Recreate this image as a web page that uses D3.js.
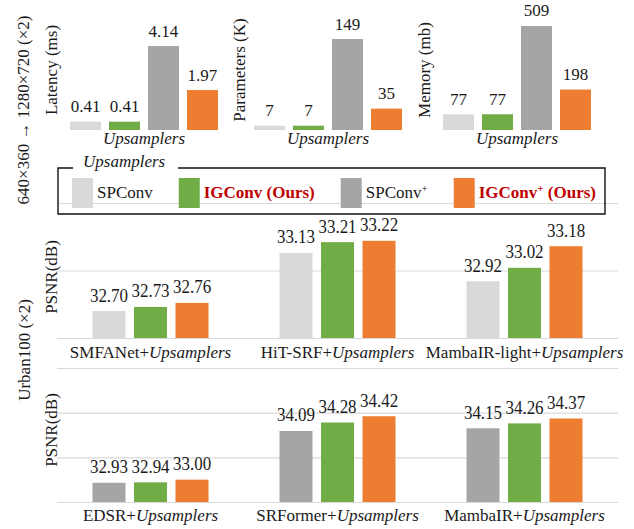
<!DOCTYPE html>
<html>
<head>
<meta charset="utf-8">
<script src="https://cdn.jsdelivr.net/npm/d3@7"></script>
<style>
  html, body { margin: 0; padding: 0; background: #fff; }
  svg { display: block; font-family: "Liberation Serif", "Times New Roman", serif; }
</style>
</head>
<body>
<svg id="chart" width="634" height="529"></svg>
<script>
// ---- data ----
const upsamplers = ["SPConv", "IGConv (Ours)", "SPConv+", "IGConv+ (Ours)"];
const latency = [0.41, 0.41, 4.14, 1.97];
const parameters = [7, 7, 149, 35];
const memory = [77, 77, 509, 198];

const lightModels = ["SMFANet", "HiT-SRF", "MambaIR-light"];
const lightSPConv = [32.70, 33.13, 32.92];
const lightIGConv = [32.73, 33.21, 33.02];
const lightIGConvPlus = [32.76, 33.22, 33.18];
const lightTicks = [32.5, 33.0, 33.5];

const heavyModels = ["EDSR", "SRFormer", "MambaIR"];
const heavySPConvPlus = [32.93, 34.09, 34.15];
const heavyIGConv = [32.94, 34.28, 34.26];
const heavyIGConvPlus = [33.00, 34.42, 34.37];
const heavyTicks = [32.5, 33.5, 34.5, 35.5];

// ---- styling ----
const colors = {
  "SPConv": "#d9d9d9",
  "IGConv (Ours)": "#70ad47",
  "SPConv+": "#a5a5a5",
  "IGConv+ (Ours)": "#ed7d31"
};
const gridColor = "#d9d9d9";
const oursColor = "#c00000";

const svg = d3.select("#chart");

// ---- top row: cost of each upsampler ----
const costPanels = [
  { label: "Latency (ms)", values: latency, fmt: d3.format(".2f"), x0: 70, max: 5, top: 28.6, labelX: 57 },
  { label: "Parameters (K)", values: parameters, fmt: d3.format("d"), x0: 254, max: 160, top: 32.3, labelX: 245 },
  { label: "Memory (mb)", values: memory, fmt: d3.format("d"), x0: 443, max: 600, top: 7.4, labelX: 430 }
];
const costBase = 130;

costPanels.forEach(p => {
  const x = d3.scaleBand().domain(upsamplers).range([p.x0, p.x0 + 148])
    .paddingInner(0.205).paddingOuter(0);
  const y = d3.scaleLinear().domain([0, p.max]).range([costBase, p.top]);
  const g = svg.append("g");
  const rows = upsamplers.map((k, i) => ({ k, v: p.values[i] }));

  g.selectAll("rect").data(rows).join("rect")
    .attr("x", d => x(d.k)).attr("width", x.bandwidth())
    .attr("y", d => y(d.v)).attr("height", d => y(0) - y(d.v))
    .attr("fill", d => colors[d.k]);

  g.selectAll("text.val").data(rows).join("text")
    .attr("class", "val")
    .attr("x", d => x(d.k) + x.bandwidth() / 2)
    .attr("y", d => y(d.v) - 9.5)
    .attr("text-anchor", "middle").attr("font-size", 17).attr("fill", "#1a1a1a")
    .text(d => p.fmt(d.v));

  g.append("text")
    .attr("x", p.x0 + 74).attr("y", 144)
    .attr("text-anchor", "middle").attr("font-size", 17).attr("font-style", "italic")
    .attr("fill", "#1a1a1a").text("Upsamplers");

  g.append("text")
    .attr("transform", `translate(${p.labelX},70) rotate(-90)`)
    .attr("text-anchor", "middle").attr("font-size", 17).attr("fill", "#1a1a1a")
    .text(p.label);
});

// ---- grouped PSNR charts ----
const plotX0 = 57, plotX1 = 618;

function psnrChart(models, seriesKeys, seriesValues, ticks, yRange, labelBaseline, labelY) {
  const x = d3.scaleBand().domain(models).range([plotX0, plotX1]).padding(0);
  const inner = d3.scaleBand().domain(seriesKeys).range([0, x.bandwidth()])
    .paddingInner(0.205).paddingOuter(0.855);
  const y = d3.scaleLinear().domain([ticks[0], ticks[ticks.length - 1]]).range(yRange);

  const grid = svg.append("g").attr("transform", `translate(${plotX0},0)`)
    .call(d3.axisLeft(y).tickValues(ticks).tickSize(-(plotX1 - plotX0)).tickFormat(""));
  grid.select(".domain").remove();
  grid.selectAll(".tick line").attr("stroke", gridColor).attr("stroke-width", 1.2);

  const rows = [];
  models.forEach((m, i) => seriesKeys.forEach((k, j) => rows.push({ m, k, v: seriesValues[j][i] })));

  const g = svg.append("g");
  g.selectAll("rect").data(rows).join("rect")
    .attr("x", d => x(d.m) + inner(d.k)).attr("width", inner.bandwidth())
    .attr("y", d => y(d.v)).attr("height", d => y(ticks[0]) - y(d.v))
    .attr("fill", d => colors[d.k]);

  g.selectAll("text.val").data(rows).join("text")
    .attr("class", "val")
    .attr("transform", d => `translate(${x(d.m) + inner(d.k) + inner.bandwidth() / 2},${y(d.v) - 9.5}) scale(1,1.15)`)
    .attr("text-anchor", "middle").attr("font-size", 17).attr("fill", "#1a1a1a")
    .text(d => d3.format(".2f")(d.v));

  const cat = g.selectAll("text.cat").data(models).join("text")
    .attr("class", "cat")
    .attr("x", d => x(d) + x.bandwidth() / 2).attr("y", labelBaseline)
    .attr("text-anchor", "middle").attr("font-size", 17).attr("fill", "#1a1a1a");
  cat.append("tspan").text(d => d + "+");
  cat.append("tspan").attr("font-style", "italic").text("Upsamplers");

  svg.append("text")
    .attr("transform", `translate(57,${labelY}) rotate(-90)`)
    .attr("text-anchor", "middle").attr("font-size", 17).attr("fill", "#1a1a1a")
    .text("PSNR(dB)");
}

psnrChart(lightModels, ["SPConv", "IGConv (Ours)", "IGConv+ (Ours)"],
  [lightSPConv, lightIGConv, lightIGConvPlus], lightTicks, [338, 203], 358, 277);
psnrChart(heavyModels, ["SPConv+", "IGConv (Ours)", "IGConv+ (Ours)"],
  [heavySPConvPlus, heavyIGConv, heavyIGConvPlus], heavyTicks, [502, 368], 521, 430);

// ---- side titles ----
svg.append("text")
  .attr("transform", "translate(29,110) rotate(-90)")
  .attr("text-anchor", "middle").attr("font-size", 17).attr("fill", "#1a1a1a")
  .text("640×360 → 1280×720 (×2)");
svg.append("text")
  .attr("transform", "translate(30,350) rotate(-90)")
  .attr("text-anchor", "middle").attr("font-size", 17).attr("fill", "#1a1a1a")
  .text("Urban100 (×2)");

// ---- legend ----
const legend = svg.append("g");
legend.append("path")
  .attr("d", "M73,168 H58 V214 H605 V168 H178")
  .attr("fill", "none").attr("stroke", "#111").attr("stroke-width", 1.4);
legend.append("text")
  .attr("x", 83).attr("y", 167).attr("font-size", 17).attr("font-style", "italic")
  .attr("fill", "#1a1a1a").text("Upsamplers");

let lx = 72;
upsamplers.forEach(k => {
  const ours = k.includes("Ours");
  legend.append("rect").attr("x", lx).attr("y", 178).attr("width", 21).attr("height", 30)
    .attr("fill", colors[k]);
  const t = legend.append("text").attr("x", lx + 25).attr("y", 198).attr("font-size", 17)
    .attr("font-weight", ours ? "bold" : "normal")
    .attr("fill", ours ? oursColor : "#1a1a1a");
  const plus = k.indexOf("+");
  if (plus >= 0) {
    t.append("tspan").text(k.slice(0, plus));
    t.append("tspan").attr("font-size", 11).attr("dy", -6).text("+");
    t.append("tspan").attr("dy", 6).text(k.slice(plus + 1));
  } else {
    t.text(k);
  }
  lx += 25 + t.node().getComputedTextLength() + 26;
});
</script>
</body>
</html>
